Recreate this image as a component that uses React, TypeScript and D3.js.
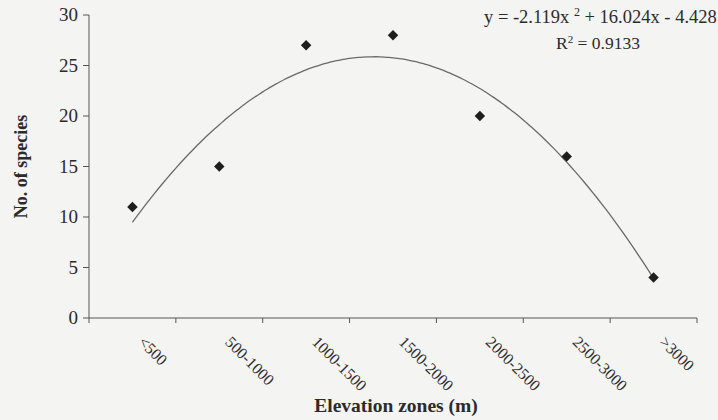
import React from "react";
import * as d3 from "d3";

const categories = ["<500", "500-1000", "1000-1500", "1500-2000", "2000-2500", "2500-3000", ">3000"];
const species = [11, 15, 27, 28, 20, 16, 4];
const yTicks = [0, 5, 10, 15, 20, 25, 30];
// displayed trendline coefficients: y = a x^2 + b x + c
const trendA = -2.119;
const trendB = 16.024;
const trendC = -4.428;
const rSquared = "0.9133";

const W = 718;
const H = 420;
const left = 89;
const right = 697;
const top = 15;
const bottom = 318;
const FONT = "Liberation Serif, DejaVu Serif, Times New Roman, serif";
const INK = "#2b2b2b";

export default function App() {
  const x = d3.scaleBand<string>().domain(categories).range([left, right]).padding(0);
  const y = d3.scaleLinear().domain([0, 30]).range([bottom, top]);
  const bw = x.bandwidth();
  const cx = (i: number) => (x(categories[i]) as number) + bw / 2;
  const xi = d3.scaleLinear().domain([1, categories.length]).range([cx(0), cx(categories.length - 1)]);

  const steps = d3.range(1, categories.length + 0.0001, 0.05);
  const line = d3
    .line<number>()
    .x((t) => xi(t))
    .y((t) => y(trendA * t * t + trendB * t + trendC))
    .curve(d3.curveMonotoneX);

  const boundaries = [...categories.map((c) => x(c) as number), right];
  const diamond = d3.symbol().type(d3.symbolDiamond2).size(70)();
  const ts = { fontFamily: FONT };

  return (
    <svg
      width={W}
      height={H}
      style={{ position: "absolute", left: 0, top: 0, background: "#f4f4f2" }}
    >
      <rect x={0} y={0} width={W} height={H} fill="#f4f4f2" />
      {/* y axis */}
      <line x1={left} x2={left} y1={top} y2={bottom} stroke="#555" strokeWidth={1} />
      {yTicks.map((t) => (
        <g key={t}>
          <line x1={left - 6} x2={left} y1={y(t)} y2={y(t)} stroke="#555" />
          <text x={left - 11} y={y(t)} dy="0.34em" textAnchor="end" fontSize={19} fill={INK} style={ts}>
            {t}
          </text>
        </g>
      ))}
      {/* x axis */}
      <line x1={left} x2={right} y1={bottom} y2={bottom} stroke="#555" strokeWidth={1} />
      {boundaries.map((b, i) => (
        <line key={i} x1={b} x2={b} y1={bottom} y2={bottom + 5} stroke="#555" />
      ))}
      {categories.map((c, i) => (
        <text
          key={c}
          transform={`translate(${cx(i) + 5},${bottom + 25}) rotate(45)`}
          fontSize={16}
          fill={INK}
          style={ts}
        >
          {c}
        </text>
      ))}
      {/* trend curve */}
      <path d={line(steps) ?? ""} fill="none" stroke="#6a6a6a" strokeWidth={1.3} />
      {/* points */}
      {species.map((v, i) => (
        <path key={i} d={diamond ?? ""} transform={`translate(${cx(i)},${y(v)})`} fill="#1e1e1e" />
      ))}
      {/* equation */}
      <text x={484} y={23} fontSize={18.5} fill={INK} style={ts}>
        <tspan>{`y = ${trendA}x `}</tspan>
        <tspan dy={-7} fontSize={12}>2</tspan>
        <tspan dy={7}>{` + ${trendB.toFixed(3)}x - ${Math.abs(trendC).toFixed(3)}`}</tspan>
      </text>
      <text x={598} y={49} fontSize={17.5} fill={INK} textAnchor="middle" style={ts}>
        <tspan>R</tspan>
        <tspan dy={-6} fontSize={11}>2</tspan>
        <tspan dy={6}>{` = ${rSquared}`}</tspan>
      </text>
      {/* axis titles */}
      <text
        transform={`translate(27,${(top + bottom) / 2}) rotate(-90)`}
        textAnchor="middle"
        fontSize={18}
        fontWeight="bold"
        fill={INK}
        style={ts}
      >
        No. of species
      </text>
      <text x={396} y={412} textAnchor="middle" fontSize={19.5} fontWeight="bold" fill={INK} style={ts}>
        Elevation zones (m)
      </text>
    </svg>
  );
}
